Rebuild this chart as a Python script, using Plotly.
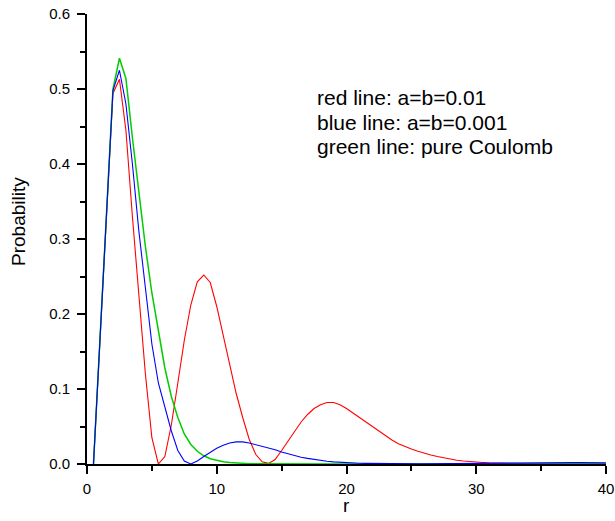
import plotly.graph_objects as go

# r grid (step 0.5)
r = [0.5 * i for i in range(1, 81)]

red = [0.0, 0.16, 0.33, 0.494, 0.513, 0.445, 0.33, 0.22, 0.12, 0.035,
       0.0, 0.01, 0.052, 0.108, 0.165, 0.212, 0.243, 0.252, 0.242, 0.21,
       0.17, 0.13, 0.094, 0.062, 0.033, 0.013, 0.003, 0.0008, 0.006, 0.018,
       0.031, 0.044, 0.056, 0.066, 0.074, 0.079, 0.082, 0.082, 0.079, 0.074,
       0.068, 0.062, 0.056, 0.049, 0.043, 0.037, 0.032, 0.027, 0.023, 0.02,
       0.017, 0.014, 0.012, 0.01, 0.008, 0.0065, 0.005, 0.004, 0.003, 0.0025,
       0.002, 0.0015, 0.0012, 0.001, 0.0008, 0.0006, 0.0005, 0.0004, 0.0003, 0.0003,
       0.0002, 0.0002, 0.0001, 0.0001, 0.0001, 0.0001, 0.0001, 0.0001, 0.0001, 0.0001]

blue = [0.0, 0.165, 0.335, 0.498, 0.525, 0.48, 0.40, 0.31, 0.235, 0.16,
        0.108, 0.074, 0.044, 0.018, 0.004, 0.0, 0.004, 0.01, 0.016, 0.021,
        0.025, 0.028, 0.0295, 0.0295, 0.028, 0.026, 0.024, 0.021, 0.019, 0.016,
        0.0135, 0.011, 0.009, 0.0075, 0.006, 0.0047, 0.0037, 0.0029, 0.0023, 0.0018,
        0.0014, 0.0011, 0.0009, 0.0007, 0.0005, 0.0004, 0.0003, 0.0003, 0.0002, 0.0002,
        0.0002, 0.0002, 0.0003, 0.0004, 0.0005, 0.0006, 0.0008, 0.001, 0.0011, 0.0013,
        0.0014, 0.0016, 0.0017, 0.0018, 0.0019, 0.002, 0.002, 0.0021, 0.0021, 0.0021,
        0.0021, 0.0021, 0.002, 0.002, 0.0019, 0.0019, 0.0018, 0.0017, 0.0016, 0.0015]

green = [0.0, 0.17, 0.34, 0.50, 0.541, 0.514, 0.435, 0.36, 0.29, 0.228,
         0.175, 0.128, 0.09, 0.062, 0.04, 0.026, 0.017, 0.011, 0.007, 0.0045,
         0.003, 0.002, 0.0013, 0.0008, 0.0005, 0.0003, 0.0002, 0.0001, 0.0001, 0.0,
         0.0, 0.0, 0.0, 0.0, 0.0, 0.0, 0.0, 0.0, 0.0, 0.0,
         0.0, 0.0, 0.0, 0.0, 0.0, 0.0, 0.0, 0.0, 0.0, 0.0,
         0.0, 0.0, 0.0, 0.0, 0.0, 0.0, 0.0, 0.0, 0.0, 0.0,
         0.0, 0.0, 0.0, 0.0, 0.0, 0.0, 0.0, 0.0, 0.0, 0.0,
         0.0, 0.0, 0.0, 0.0, 0.0, 0.0, 0.0, 0.0, 0.0, 0.0]

x_ticks = [0, 10, 20, 30, 40]
y_ticks = [0.0, 0.1, 0.2, 0.3, 0.4, 0.5, 0.6]
y_tick_labels = ["0.0", "0.1", "0.2", "0.3", "0.4", "0.5", "0.6"]
legend_lines = ["red line: a=b=0.01", "blue line: a=b=0.001", "green line: pure Coulomb"]
x_title = "r"
y_title = "Probability"

FONT = "Liberation Sans, Arial, sans-serif"
W, H = 615, 521
ML, MR, MT, MB = 87, 9, 14, 57
pw = W - ML - MR
ph = H - MT - MB
PX0, PY0 = ML, H - MB  # pixel of plot origin

fig = go.Figure()
fig.add_trace(go.Scatter(x=r, y=red, mode="lines", line=dict(color="#FF0000", width=1.1), showlegend=False))
fig.add_trace(go.Scatter(x=r, y=green, mode="lines", line=dict(color="#00CC00", width=1.5), showlegend=False))
fig.add_trace(go.Scatter(x=r, y=blue, mode="lines", line=dict(color="#0000FF", width=1.1), showlegend=False))

for i, line in enumerate(legend_lines):
    yc = 98 + 24 * i
    fig.add_annotation(
        x=(315 - PX0) / pw, y=(PY0 - yc) / ph, xref="paper", yref="paper",
        xanchor="left", yanchor="middle", text=line, showarrow=False, align="left",
        font=dict(family=FONT, size=21, color="black"),
    )

fig.add_annotation(
    x=(346 - PX0) / pw, y=-(505 - PY0) / ph, xref="paper", yref="paper",
    xanchor="center", yanchor="middle", text=x_title, showarrow=False,
    font=dict(family=FONT, size=19, color="black"),
)
fig.add_annotation(
    x=-(PX0 - 18) / pw, y=(PY0 - 222) / ph, xref="paper", yref="paper",
    xanchor="center", yanchor="middle", text=y_title, showarrow=False, textangle=-90,
    font=dict(family=FONT, size=19, color="black"),
)

fig.update_layout(
    width=W, height=H,
    margin=dict(l=ML, r=MR, t=MT, b=MB, autoexpand=False),
    plot_bgcolor="white", paper_bgcolor="white",
    font=dict(family=FONT, size=15, color="black"),
)
fig.update_xaxes(
    range=[0, 40], tickvals=x_ticks, ticktext=[str(v) for v in x_ticks],
    showline=True, linecolor="black", linewidth=2, showgrid=False, zeroline=False,
    ticks="outside", ticklen=8, tickwidth=2, tickcolor="black",
    minor=dict(dtick=5, ticks="outside", ticklen=5, tickwidth=2, tickcolor="black", showgrid=False),
    tickfont=dict(size=15), ticklabelstandoff=2, automargin=False,
    ticklabeloverflow="allow",
)
fig.update_yaxes(
    range=[0, 0.6], tickvals=y_ticks, ticktext=y_tick_labels,
    showline=True, linecolor="black", linewidth=2, showgrid=False, zeroline=False,
    ticks="outside", ticklen=8, tickwidth=2, tickcolor="black",
    minor=dict(dtick=0.05, ticks="outside", ticklen=5, tickwidth=2, tickcolor="black", showgrid=False),
    tickfont=dict(size=15), ticklabelstandoff=4, automargin=False,
    ticklabeloverflow="allow",
)

fig.write_html(
    "out.html",
    config={"displayModeBar": False},
    post_script="document.body.style.margin='0';document.body.style.overflow='hidden';",
)
